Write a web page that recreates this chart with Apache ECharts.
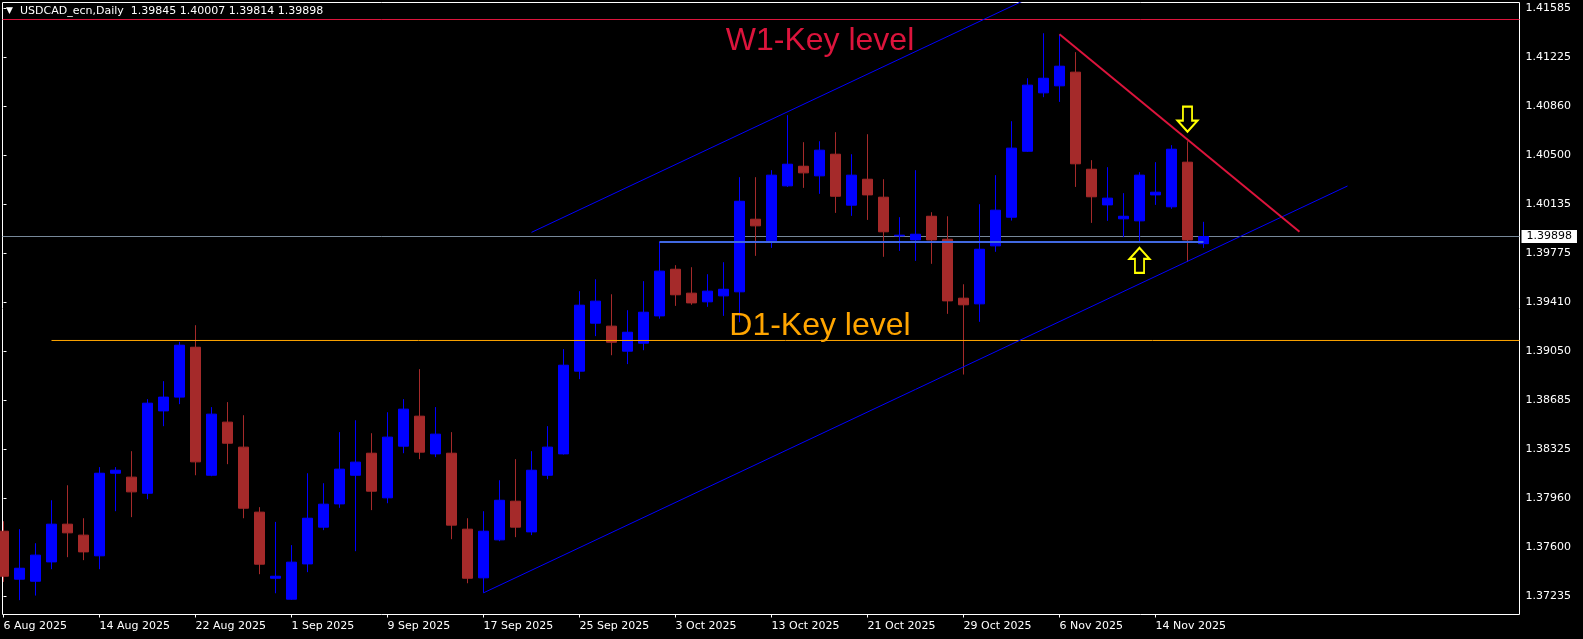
<!DOCTYPE html>
<html>
<head>
<meta charset="utf-8">
<script src="https://cdn.jsdelivr.net/npm/echarts@6.0.0/dist/echarts.min.js"></script>
<style>
html,body{margin:0;padding:0;background:#000;}
#chart{width:1583px;height:639px;}
</style>
</head>
<body>
<div id="chart"></div>
<script>
// ---- categories (trading days) ----
const dates = ['6 Aug 2025','7 Aug 2025','8 Aug 2025','11 Aug 2025','12 Aug 2025','13 Aug 2025','14 Aug 2025','15 Aug 2025','18 Aug 2025','19 Aug 2025','20 Aug 2025','21 Aug 2025','22 Aug 2025','25 Aug 2025','26 Aug 2025','27 Aug 2025','28 Aug 2025','29 Aug 2025','1 Sep 2025','2 Sep 2025','3 Sep 2025','4 Sep 2025','5 Sep 2025','8 Sep 2025','9 Sep 2025','10 Sep 2025','11 Sep 2025','12 Sep 2025','15 Sep 2025','16 Sep 2025','17 Sep 2025','18 Sep 2025','19 Sep 2025','22 Sep 2025','23 Sep 2025','24 Sep 2025','25 Sep 2025','26 Sep 2025','29 Sep 2025','30 Sep 2025','1 Oct 2025','2 Oct 2025','3 Oct 2025','6 Oct 2025','7 Oct 2025','8 Oct 2025','9 Oct 2025','10 Oct 2025','13 Oct 2025','14 Oct 2025','15 Oct 2025','16 Oct 2025','17 Oct 2025','20 Oct 2025','21 Oct 2025','22 Oct 2025','23 Oct 2025','24 Oct 2025','27 Oct 2025','28 Oct 2025','29 Oct 2025','30 Oct 2025','31 Oct 2025','3 Nov 2025','4 Nov 2025','5 Nov 2025','6 Nov 2025','7 Nov 2025','10 Nov 2025','11 Nov 2025','12 Nov 2025','13 Nov 2025','14 Nov 2025','17 Nov 2025','18 Nov 2025','19 Nov 2025'];

// ---- OHLC series ----
const opens = [1.37718,1.37363,1.37348,1.37491,1.37770,1.37689,1.37536,1.38147,1.38118,1.37999,
1.38608,1.38710,1.39079,1.38132,1.38525,1.38340,1.37859,1.37370,1.37215,1.37476,
1.37748,1.37920,1.38132,1.38295,1.37965,1.38347,1.38569,1.38290,1.38295,1.37733,
1.37373,1.37654,1.37940,1.37713,1.38132,1.38290,1.38902,1.39257,1.39235,1.39050,
1.39109,1.39311,1.39656,1.39479,1.39415,1.39459,1.39489,1.40026,1.39866,1.40273,
1.40418,1.40347,1.40507,1.40130,1.40322,1.40189,1.39903,1.39873,1.40048,1.39878,
1.39442,1.39400,1.39829,1.40041,1.40529,1.40961,1.41013,1.41114,1.40396,1.40132,
1.40029,1.40014,1.40206,1.40118,1.40448,1.39845];
const closes = [1.37385,1.37444,1.37541,1.37770,1.37706,1.37565,1.38147,1.38169,1.38009,1.38665,
1.38710,1.39094,1.38231,1.38584,1.38369,1.37888,1.37474,1.37385,1.37489,1.37814,
1.37918,1.38177,1.38229,1.38014,1.38414,1.38621,1.38303,1.38436,1.37763,1.37370,
1.37718,1.37947,1.37748,1.38169,1.38340,1.38946,1.39390,1.39420,1.39116,1.39190,
1.39338,1.39642,1.39467,1.39407,1.39494,1.39508,1.40159,1.39977,1.40352,1.40433,
1.40369,1.40537,1.40196,1.40352,1.40206,1.39933,1.39908,1.39915,1.39873,1.39422,
1.39393,1.39804,1.40093,1.40552,1.41018,1.41069,1.41158,1.40436,1.40192,1.40182,
1.40048,1.40352,1.40226,1.40544,1.39873,1.39898];
const lows = [1.37343,1.37208,1.37242,1.37437,1.37526,1.37504,1.37437,1.37866,1.37822,1.37955,
1.38495,1.38658,1.38132,1.38125,1.38214,1.37814,1.37400,1.37259,1.37210,1.37415,
1.37726,1.37891,1.37570,1.37874,1.37925,1.38295,1.38251,1.38266,1.37659,1.37333,
1.37262,1.37644,1.37674,1.37689,1.38103,1.38285,1.38843,1.39161,1.39020,1.38954,
1.39057,1.39290,1.39385,1.39393,1.39378,1.39311,1.39264,1.39755,1.39814,1.40265,
1.40258,1.40214,1.40073,1.40051,1.40021,1.39748,1.39792,1.39718,1.39696,1.39326,
1.38877,1.39267,1.39785,1.40016,1.40524,1.40929,1.40894,1.40265,1.39999,1.40014,
1.39893,1.39859,1.40132,1.40103,1.39711,1.39814];
const highs = [1.37792,1.37733,1.37629,1.37947,1.38058,1.37814,1.38192,1.38192,1.38310,1.38695,
1.38828,1.39119,1.39242,1.38636,1.38673,1.38576,1.37896,1.37787,1.37615,1.38147,
1.38073,1.38451,1.38539,1.38443,1.38598,1.38695,1.38917,1.38636,1.38451,1.37814,
1.37866,1.38095,1.38251,1.38310,1.38495,1.39065,1.39494,1.39582,1.39471,1.39353,
1.39568,1.39859,1.39686,1.39671,1.39619,1.39708,1.40337,1.40337,1.40389,1.40796,
1.40596,1.40603,1.40670,1.40507,1.40655,1.40322,1.40041,1.40389,1.40078,1.40048,
1.39545,1.40137,1.40352,1.40751,1.41069,1.41402,1.41392,1.41262,1.40463,1.40411,
1.40219,1.40374,1.40448,1.40574,1.40603,1.40007];

// ---- tick labels ----
const yTickLabels = ['1.37235','1.37600','1.37960','1.38325','1.38685','1.39050','1.39410','1.39775','1.40135','1.40500','1.40860','1.41225','1.41585'];
const xTickIndex = [0,6,12,18,24,30,36,42,48,54,60,66,72];

// ---- drawn objects (index, price) ----
const w1Level = 1.41504;
const d1Line = [[3, 1.39129], [94.75, 1.39129]];
const supportLine = [[41, 1.39858], [75, 1.39858]];
const channelLow = [[30, 1.37262], [84, 1.40272]];
const channelHigh = [[33, 1.39929], [70, 1.41991]];
const redTrend = [[66, 1.41394], [81, 1.39934]];
const arrowUp = [[71, 1.39722]];
const arrowDown = [[74, 1.40766]];
const w1TextPos = [45.11, 1.41340];
const d1TextPos = [45.33, 1.39232];

// ---- axis ranges ----
const xMin = -0.0625, xMax = 94.75;
const yMin = 1.3710181, yMax = 1.4162939;

const candleData = dates.map((d, i) => [i, opens[i], closes[i], lows[i], highs[i]]);
const last = dates.length - 1;
const titleValues = [opens[last], highs[last], lows[last], closes[last]].map(v => v.toFixed(5)).join(' ');

const FONT = 'DejaVu Sans';
const chart = echarts.init(document.getElementById('chart'), null, {renderer: 'canvas'});
chart.setOption({
  backgroundColor: '#000',
  animation: false,
  title: [
    {text: '▼', left: 6, top: 6, padding: 0, textStyle: {fontSize: 9, fontWeight: 'normal', color: '#fff', fontFamily: FONT}},
    {text: 'USDCAD_ecn,Daily  ' + titleValues, left: 20, top: 6, padding: 0, textStyle: {fontSize: 11, fontWeight: 'normal', color: '#fff', fontFamily: FONT}}
  ],
  grid: {left: 2.5, top: 2.5, width: 1517, height: 612, show: true, borderColor: '#fff', borderWidth: 1, backgroundColor: 'transparent'},
  xAxis: {
    type: 'value', min: xMin, max: xMax,
    axisLine: {show: false}, splitLine: {show: false},
    axisTick: {show: true, customValues: xTickIndex, length: 3, lineStyle: {color: '#fff'}},
    axisLabel: {customValues: xTickIndex, formatter: v => dates[Math.round(v)], color: '#fff', fontFamily: FONT, fontSize: 11, align: 'left', margin: 6}
  },
  yAxis: {
    type: 'value', position: 'right', min: yMin, max: yMax, scale: true,
    axisLine: {show: false}, splitLine: {show: false},
    axisTick: {show: true, customValues: yTickLabels.map(Number), length: 3, lineStyle: {color: '#fff'}},
    axisLabel: {customValues: yTickLabels.map(Number), formatter: v => v.toFixed(5), color: '#fff', fontFamily: FONT, fontSize: 11, margin: 6}
  },
  series: [
    {
      type: 'candlestick', data: candleData, barWidth: 11, silent: true, z: 2,
      itemStyle: {color: '#0000FF', color0: '#A52A2A', borderColor: '#0000FF', borderColor0: '#A52A2A', borderWidth: 1},
      markLine: {
        silent: true, symbol: ['none', 'none'], z: 1, animation: false, precision: 6,
        data: [
          {yAxis: closes[last], lineStyle: {color: '#778899', width: 1, type: 'solid'},
           label: {show: true, position: 'end', formatter: closes[last].toFixed(5), color: '#000', backgroundColor: '#fff', padding: [1, 5, 1, 5], distance: 2, fontFamily: FONT, fontSize: 11}},
          {yAxis: w1Level, lineStyle: {color: '#DC143C', width: 1, type: 'solid'}, label: {show: false}}
        ]
      }
    },
    {type: 'line', data: d1Line, symbol: 'none', silent: true, z: 3, lineStyle: {color: '#FFA500', width: 1}},
    {type: 'line', data: supportLine, symbol: 'none', silent: true, z: 3, lineStyle: {color: '#4169E1', width: 2}},
    {type: 'line', data: channelLow, symbol: 'none', silent: true, z: 3, lineStyle: {color: '#0000FF', width: 1}},
    {type: 'line', data: channelHigh, symbol: 'none', silent: true, z: 3, lineStyle: {color: '#0000FF', width: 1}},
    {type: 'line', data: redTrend, symbol: 'none', silent: true, z: 3, lineStyle: {color: '#DC143C', width: 2}},
    {
      type: 'scatter', silent: true, z: 4, symbolSize: 1,
      itemStyle: {color: 'rgba(0,0,0,0)', opacity: 1},
      data: [
        {value: w1TextPos, label: {show: true, position: 'right', distance: 0, formatter: 'W1-Key level', color: '#DC143C', fontSize: 32, fontFamily: 'Liberation Sans'}},
        {value: d1TextPos, label: {show: true, position: 'right', distance: 0, formatter: 'D1-Key level', color: '#FFA500', fontSize: 32, fontFamily: 'Liberation Sans'}}
      ]
    },
    {
      type: 'scatter', silent: true, z: 5, data: arrowUp,
      symbol: 'path://M11,0L22,12L16,12L16,27L6,27L6,12L0,12Z', symbolSize: [20, 25],
      itemStyle: {color: '#000', borderColor: '#FFFF00', borderWidth: 2, opacity: 1}
    },
    {
      type: 'scatter', silent: true, z: 5, data: arrowDown,
      symbol: 'path://M6,0L16,0L16,15L22,15L11,27L0,15L6,15Z', symbolSize: [20, 25],
      itemStyle: {color: '#000', borderColor: '#FFFF00', borderWidth: 2, opacity: 1}
    }
  ]
});
</script>
</body>
</html>
